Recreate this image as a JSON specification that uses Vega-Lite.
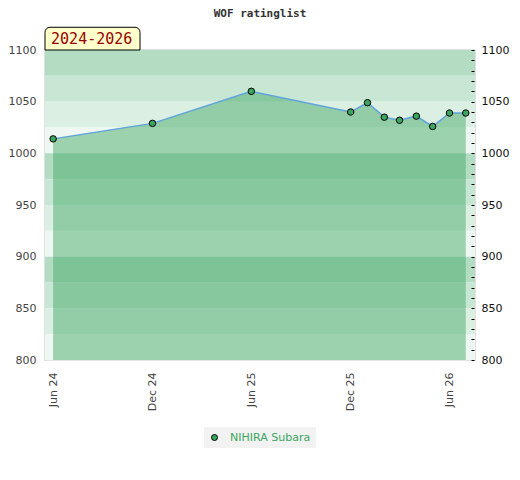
{
  "$schema": "https://vega.github.io/schema/vega-lite/v6.json",
  "autosize": "none",
  "width": 430,
  "height": 310,
  "padding": {"left": 45, "top": 50, "right": 45, "bottom": 120},
  "title": {
    "text": "WOF ratinglist",
    "font": "DejaVu Sans Mono",
    "fontSize": 11,
    "fontWeight": "bold",
    "color": "#333333",
    "anchor": "middle",
    "frame": "group",
    "offset": 8
  },
  "config": {
    "view": {"stroke": "#d8d8d8", "strokeWidth": 1.5},
    "axis": {"labelFont": "DejaVu Sans", "labelFontSize": 11, "grid": false, "domain": false, "title": null},
    "legend": {"labelFont": "DejaVu Sans", "labelFontSize": 11}
  },
  "datasets": {
    "ratings": [
      {"date": "2024-06-01", "rating": 1014, "player": "NIHIRA Subara"},
      {"date": "2024-12-01", "rating": 1029, "player": "NIHIRA Subara"},
      {"date": "2025-06-01", "rating": 1060, "player": "NIHIRA Subara"},
      {"date": "2025-12-01", "rating": 1040, "player": "NIHIRA Subara"},
      {"date": "2026-01-01", "rating": 1049, "player": "NIHIRA Subara"},
      {"date": "2026-02-01", "rating": 1035, "player": "NIHIRA Subara"},
      {"date": "2026-03-01", "rating": 1032, "player": "NIHIRA Subara"},
      {"date": "2026-04-01", "rating": 1036, "player": "NIHIRA Subara"},
      {"date": "2026-05-01", "rating": 1026, "player": "NIHIRA Subara"},
      {"date": "2026-06-01", "rating": 1039, "player": "NIHIRA Subara"},
      {"date": "2026-07-01", "rating": 1039, "player": "NIHIRA Subara"}
    ],
    "bands": [
      {"lo": 1075, "hi": 1100, "shade": "a"},
      {"lo": 1050, "hi": 1075, "shade": "b"},
      {"lo": 1025, "hi": 1050, "shade": "c"},
      {"lo": 1000, "hi": 1025, "shade": "d"},
      {"lo": 975, "hi": 1000, "shade": "a"},
      {"lo": 950, "hi": 975, "shade": "b"},
      {"lo": 925, "hi": 950, "shade": "c"},
      {"lo": 900, "hi": 925, "shade": "d"},
      {"lo": 875, "hi": 900, "shade": "a"},
      {"lo": 850, "hi": 875, "shade": "b"},
      {"lo": 825, "hi": 850, "shade": "c"},
      {"lo": 800, "hi": 825, "shade": "d"}
    ],
    "period": [
      {"start": "2024-05-17", "end": "2024-11-08", "mid": "2024-08-11", "top": 1122, "bottom": 1100, "center": 1110.5, "label": "2024-2026"}
    ]
  },
  "layer": [
    {
      "data": {"name": "bands"},
      "mark": {"type": "rect"},
      "encoding": {
        "y": {
          "field": "lo", "type": "quantitative",
          "scale": {"domain": [800, 1100], "nice": false},
          "axis": {"orient": "left", "values": [800, 850, 900, 950, 1000, 1050, 1100], "format": "d", "ticks": false, "labelPadding": 9, "labelColor": "#444444"}
        },
        "y2": {"field": "hi"},
        "fill": {
          "field": "shade", "type": "nominal",
          "scale": {"domain": ["a", "b", "c", "d"], "range": ["#b3dcc3", "#c8e6d4", "#dcefe3", "#eef7f1"]},
          "legend": null
        }
      }
    },
    {
      "data": {"name": "ratings"},
      "mark": {"type": "area", "color": "#3aa65f", "opacity": 0.46},
      "encoding": {
        "x": {
          "field": "date", "type": "temporal",
          "scale": {"type": "utc", "domain": [{"year": 2024, "month": 5, "date": 17, "utc": true}, {"year": 2026, "month": 7, "date": 18, "utc": true}]},
          "axis": {
            "values": [
              {"year": 2024, "month": 6, "date": 1, "utc": true},
              {"year": 2024, "month": 12, "date": 1, "utc": true},
              {"year": 2025, "month": 6, "date": 1, "utc": true},
              {"year": 2025, "month": 12, "date": 1, "utc": true},
              {"year": 2026, "month": 6, "date": 1, "utc": true}
            ],
            "format": "%b %y", "labelAngle": -90, "ticks": false, "labelPadding": 12, "labelColor": "#444444"
          }
        },
        "y": {"field": "rating", "type": "quantitative", "axis": null},
        "y2": {"datum": 800}
      }
    },
    {
      "data": {"name": "ratings"},
      "transform": [{"filter": "datum.date == '2024-06-01' || datum.date == '2026-07-01'"}],
      "mark": {"type": "rule", "color": "#2e9e56", "strokeWidth": 1.5},
      "encoding": {
        "x": {"field": "date", "type": "temporal"},
        "y": {"field": "rating", "type": "quantitative", "axis": null},
        "y2": {"datum": 800}
      }
    },
    {
      "data": {"name": "ratings"},
      "mark": {"type": "line", "color": "#5fa3dc", "strokeWidth": 1.5},
      "encoding": {
        "x": {"field": "date", "type": "temporal"},
        "y": {"field": "rating", "type": "quantitative", "axis": null}
      }
    },
    {
      "data": {"name": "ratings"},
      "mark": {"type": "point", "filled": true, "stroke": "#000000", "strokeWidth": 1, "size": 42, "opacity": 1},
      "encoding": {
        "x": {"field": "date", "type": "temporal"},
        "y": {
          "field": "rating", "type": "quantitative",
          "axis": {
            "orient": "right",
            "values": [800, 810, 820, 830, 840, 850, 860, 870, 880, 890, 900, 910, 920, 930, 940, 950, 960, 970, 980, 990, 1000, 1010, 1020, 1030, 1040, 1050, 1060, 1070, 1080, 1090, 1100],
            "format": "d",
            "labelExpr": "datum.value % 50 == 0 ? datum.label : ''",
            "offset": -4, "tickSize": 3, "tickColor": "#000000", "tickWidth": 1,
            "labelPadding": 7, "labelColor": "#111111", "zindex": 2
          }
        },
        "color": {
          "field": "player", "type": "nominal",
          "scale": {"range": ["#3aa65f"]},
          "legend": {
            "orient": "none", "legendX": 159, "legendY": 377,
            "direction": "horizontal", "title": null,
            "fillColor": "#f2f2f2", "padding": 5, "labelOffset": 10,
            "labelColor": "#3aa65f", "symbolType": "circle", "symbolSize": 36,
            "symbolStrokeColor": "#000000", "symbolStrokeWidth": 1
          }
        }
      }
    },
    {
      "data": {"name": "period"},
      "mark": {"type": "rect", "fill": "#ffffcc", "stroke": "#000000", "strokeWidth": 1, "cornerRadiusTopLeft": 5, "cornerRadiusTopRight": 5},
      "encoding": {
        "x": {"field": "start", "type": "temporal"},
        "x2": {"field": "end"},
        "y": {"field": "top", "type": "quantitative", "axis": null},
        "y2": {"field": "bottom"}
      }
    },
    {
      "data": {"name": "period"},
      "mark": {"type": "text", "font": "DejaVu Sans Mono", "fontSize": 15, "color": "#990000", "align": "center", "baseline": "middle"},
      "encoding": {
        "x": {"field": "mid", "type": "temporal"},
        "y": {"field": "center", "type": "quantitative", "axis": null},
        "text": {"field": "label"}
      }
    }
  ],
  "resolve": {"axis": {"y": "independent"}}
}
